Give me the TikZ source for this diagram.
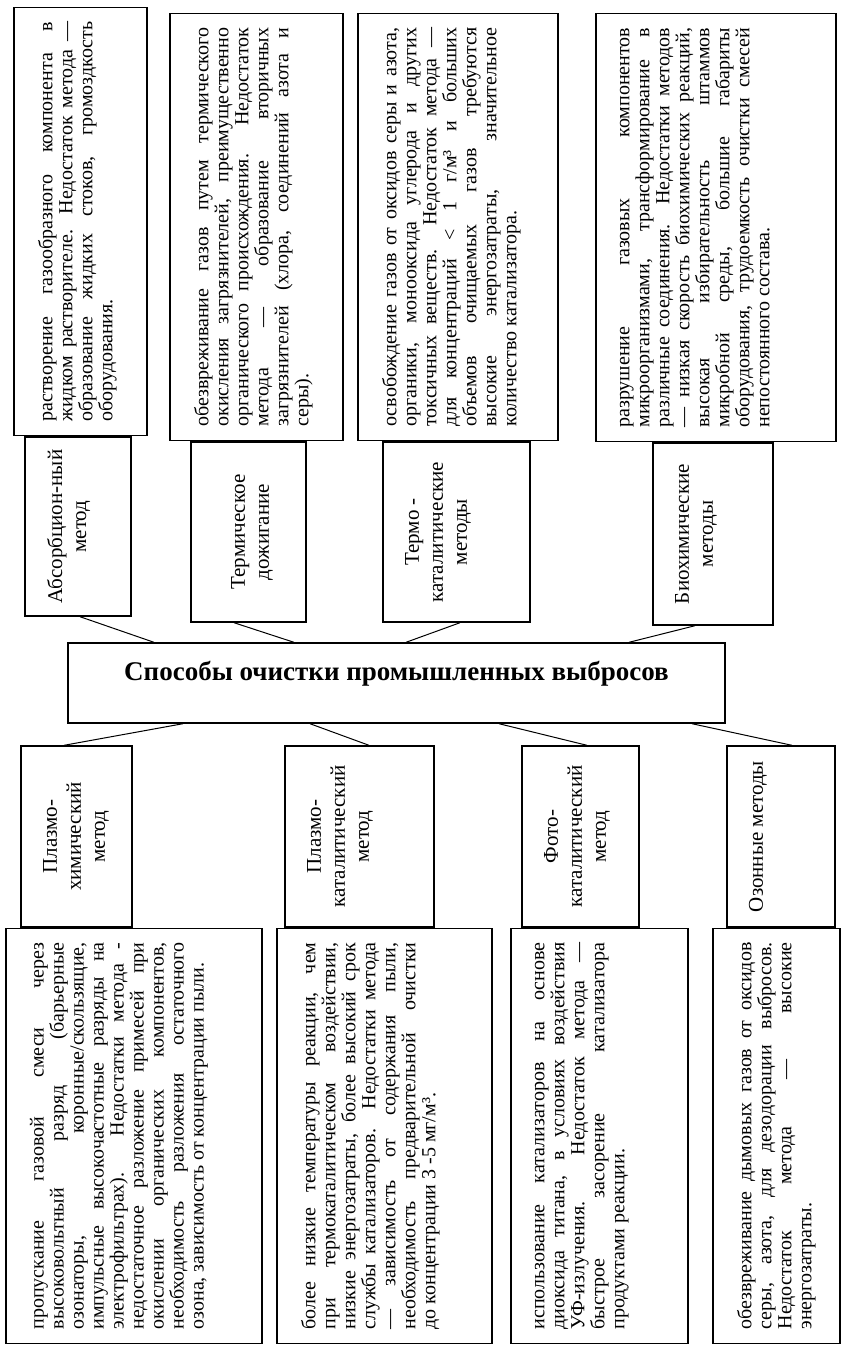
\documentclass[tikz,border=0pt]{standalone}
\usepackage{fontspec}
\setmainfont{Liberation Serif}
\usepackage{graphicx}
\usepackage{tikz}
\usetikzlibrary{positioning}
\newcommand{\jl}[1]{\makebox[\linewidth][s]{#1}\par}
\newcommand{\rottext}[3]{\rotatebox{90}{\parbox[c][#2][t]{\dimexpr#1-14pt\relax}{\vspace*{12pt}#3}}}
\newcommand{\rotlabel}[4][11pt]{\rotatebox{90}{\parbox[c][#3][t]{#2}{\centering\vspace*{#1}#4}}}
\begin{document}
\begin{tikzpicture}[x=0.5pt,y=-0.5pt,
descbox/.style={draw,line width=0.7pt,inner xsep=0pt,inner ysep=7pt,font=\fontsize{10}{10}\selectfont},
methodbox/.style={draw,line width=0.7pt,inner sep=0pt,font=\fontsize{10.5}{12}\selectfont},
rootbox/.style={draw,line width=0.7pt,inner sep=0pt,minimum width=328.5pt,minimum height=40pt,font=\fontsize{13.5}{16}\selectfont\bfseries,text height=9.5pt,text depth=12.5pt},
link/.style={line width=0.5pt}]
\useasboundingbox (0,0) rectangle (841,1351);
\node[rootbox] (root) at (396.5,683) {Способы очистки промышленных выбросов};
% upper branch
\node[methodbox] (absM) at (78,526.5) {\rotlabel{89.5pt}{53pt}{Абсорбцион-ный\\метод}};
\node[methodbox] (thermM) at (248.5,532) {\rotlabel[20pt]{90pt}{57.5pt}{Термическое\\дожигание}};
\node[methodbox] (tcatM) at (456.5,532) {\rotlabel{90pt}{73.5pt}{Термо -\\каталитические\\методы}};
\node[methodbox] (bioM) at (713,534) {\rotlabel{91pt}{60pt}{Биохимические\\методы}};
\node[descbox,above=0pt of absM,xshift=1.25pt] (absD) {\rottext{214pt}{66.5pt}{%
\jl{растворение газообразного компонента в}
\jl{жидком растворителе. Недостаток метода —}
\jl{образование жидких стоков, громоздкость}
оборудования.}};
\node[descbox,above=0pt of thermM,xshift=4pt] (thermD) {\rottext{213.5pt}{86.5pt}{%
\jl{обезвреживание газов путем термического}
\jl{окисления загрязнителей, преимущественно}
\jl{органического происхождения. Недостаток}
\jl{метода — образование вторичных}
\jl{загрязнителей (хлора, соединений азота и}
серы).}};
\node[descbox,above=0pt of tcatM,xshift=0.75pt] (tcatD) {\rottext{213.5pt}{100pt}{%
\jl{освобождение газов от оксидов серы и азота,}
\jl{органики, монооксида углерода и других}
\jl{токсичных веществ. Недостаток метода —}
\jl{для концентраций < 1 г/м³ и больших}
\jl{объемов очищаемых газов требуются}
\jl{высокие энергозатраты, значительное}
количество катализатора.}};
\node[descbox,above=0pt of bioM,xshift=1.5pt] (bioD) {\rottext{214pt}{120pt}{%
\jl{разрушение газовых компонентов}
\jl{микроорганизмами, трансформирование в}
\jl{различные соединения. Недостатки методов}
\jl{— низкая скорость биохимических реакций,}
\jl{высокая избирательность штаммов}
\jl{микробной среды, большие габариты}
\jl{оборудования, трудоемкость очистки смесей}
непостоянного состава.}};
% lower branch
\node[methodbox] (pchemM) at (76.5,836.5) {\rotlabel{90.5pt}{55.5pt}{Плазмо-\\химический\\метод}};
\node[methodbox] (pcatM) at (359.5,836.5) {\rotlabel{90.5pt}{74.5pt}{Плазмо-\\каталитический\\метод}};
\node[methodbox] (phcatM) at (580.5,836.5) {\rotlabel{90.5pt}{58.5pt}{Фото-\\каталитический\\метод}};
\node[methodbox] (ozoneM) at (781,836.5) {\rotlabel{90.5pt}{54pt}{Озонные методы}};
\node[descbox,below=0pt of pchemM,xshift=28.75pt] (pchemD) {\rottext{207.5pt}{128pt}{%
\jl{пропускание газовой смеси через}
\jl{высоковольтный разряд (барьерные}
\jl{озонаторы, коронные/скользящие,}
\jl{импульсные высокочастотные разряды на}
\jl{электрофильтрах). Недостатки метода -}
\jl{недостаточное разложение примесей при}
\jl{окислении органических компонентов,}
\jl{необходимость разложения остаточного}
озона, зависимость от концентрации пыли.}};
\node[descbox,below=0pt of pcatM,xshift=12.5pt] (pcatD) {\rottext{207.5pt}{107.5pt}{%
\jl{более низкие температуры реакции, чем}
\jl{при термокаталитическом воздействии,}
\jl{низкие энергозатраты, более высокий срок}
\jl{службы катализаторов. Недостатки метода}
\jl{— зависимость от содержания пыли,}
\jl{необходимость предварительной очистки}
до концентрации 3 -5 мг/м³.}};
\node[descbox,below=0pt of phcatM,xshift=9.5pt] (phcatD) {\rottext{207.5pt}{88.5pt}{%
\jl{использование катализаторов на основе}
\jl{диоксида титана, в условиях воздействия}
\jl{УФ-излучения. Недостаток метода —}
\jl{быстрое засорение катализатора}
продуктами реакции.}};
\node[descbox,below=0pt of ozoneM,xshift=-2.25pt] (ozoneD) {\rottext{207.5pt}{63.5pt}{%
\jl{обезвреживание дымовых газов от оксидов}
\jl{серы, азота, для дезодорации выбросов.}
\jl{Недостаток метода — высокие}
энергозатраты.}};
% connectors
\draw[link] ([xshift=1pt]absM.south) -- ([xshift=-121.25pt]root.north);
\draw[link] ([xshift=-7.25pt]thermM.south) -- ([xshift=-51.25pt]root.north);
\draw[link] ([xshift=1.75pt]tcatM.south) -- ([xshift=4.75pt]root.north);
\draw[link] ([xshift=-9pt]bioM.south) -- ([xshift=116.25pt]root.north);
\draw[link] ([xshift=-106.75pt]root.south) -- ([xshift=-6.25pt]pchemM.north);
\draw[link] ([xshift=-43.25pt]root.south) -- ([xshift=4.75pt]pcatM.north);
\draw[link] ([xshift=51.25pt]root.south) -- ([xshift=3.25pt]phcatM.north);
\draw[link] ([xshift=147.75pt]root.south) -- ([xshift=5.5pt]ozoneM.north);
\end{tikzpicture}
\end{document}
